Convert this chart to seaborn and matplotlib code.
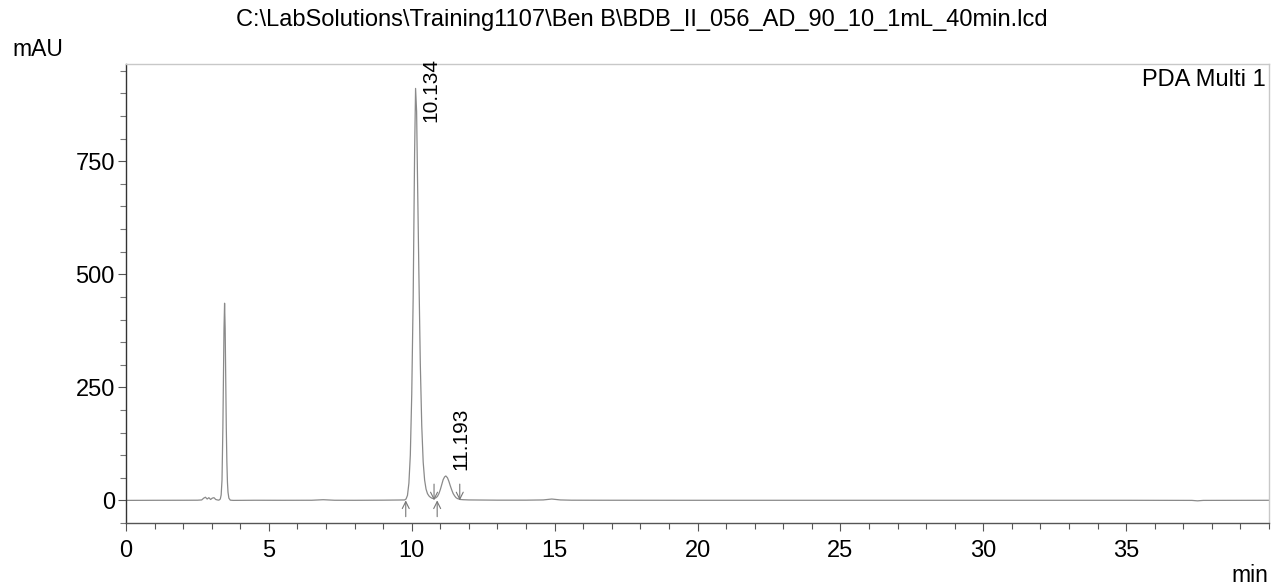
import matplotlib
matplotlib.use("Agg")
import matplotlib.pyplot as plt
import seaborn as sns
import pandas as pd
from matplotlib.ticker import MultipleLocator

# ---- data (time in min, absorbance in mAU) ----
time_min = [0.0, 1.0, 2.0, 2.5, 2.65, 2.72, 2.78, 2.84, 2.90, 2.96, 3.02, 3.08, 3.14,
            3.20, 3.25, 3.30, 3.33, 3.36, 3.39, 3.41, 3.43, 3.45, 3.47, 3.49, 3.51,
            3.53, 3.55, 3.57, 3.60, 3.65, 3.75, 4.5, 5.5, 6.5, 6.9, 7.3, 8.0, 9.0,
            9.5, 9.75, 9.80, 9.85, 9.90, 9.95, 10.00, 10.05, 10.10, 10.134, 10.17,
            10.20, 10.25, 10.30, 10.35, 10.40, 10.45, 10.50, 10.55, 10.60, 10.65,
            10.70, 10.75, 10.80, 10.85, 10.90, 10.95, 11.00, 11.05, 11.10, 11.15,
            11.193, 11.25, 11.30, 11.35, 11.40, 11.45, 11.50, 11.55, 11.60, 11.70,
            11.80, 12.0, 13.0, 14.0, 14.6, 14.9, 15.2, 15.6, 17.0, 20.0, 25.0,
            30.0, 35.0, 37.3, 37.5, 37.7, 40.0]
absorb_mau = [0.0, 0.2, 0.3, 0.4, 1.0, 5.0, 7.0, 3.0, 6.0, 2.0, 5.0, 6.0, 2.0,
              1.0, 0.5, 3.0, 12.0, 45.0, 160.0, 270.0, 380.0, 436.0, 380.0, 270.0,
              160.0, 85.0, 40.0, 18.0, 5.0, 0.5, 0.0, 0.3, 0.2, 0.3, 1.5, 0.3, 0.2,
              0.5, 0.8, 1.0, 3.0, 11.0, 38.0, 100.0, 235.0, 450.0, 770.0, 911.0, 860.0,
              720.0, 500.0, 300.0, 165.0, 85.0, 45.0, 25.0, 15.0, 10.0, 7.0,
              5.0, 4.0, 4.5, 6.0, 9.0, 15.0, 24.0, 35.0, 46.0, 52.0,
              54.0, 50.0, 42.0, 32.0, 23.0, 15.0, 10.0, 6.0, 4.0, 2.0,
              1.5, 1.0, 0.5, 0.5, 1.0, 3.0, 1.0, 0.4, 0.3, 0.2, 0.2,
              0.2, 0.2, 0.0, -1.0, 0.0, 0.2]

peak_rt = [10.134, 11.193]
peak_labels = ["10.134", "11.193"]
label_bottom_mau = [836, 68]
peak_start_min = [9.79, 10.89]
peak_end_min = [10.78, 11.68]

x_ticks = [0, 5, 10, 15, 20, 25, 30, 35]
y_ticks = [0, 250, 500, 750]
title = r"C:\LabSolutions\Training1107\Ben B\BDB_II_056_AD_90_10_1mL_40min.lcd"

# ---- figure ----
sns.set_style("ticks")
plt.rcParams["font.family"] = ["Liberation Sans", "DejaVu Sans"]
plt.rcParams["text.color"] = "black"
plt.rcParams["xtick.labelcolor"] = "black"
plt.rcParams["ytick.labelcolor"] = "black"

fig = plt.figure(figsize=(12.71, 5.86), dpi=100)
ax = fig.add_axes([126 / 1271, 1 - 523 / 586, (1269 - 126) / 1271, (523 - 64) / 586])

df = pd.DataFrame({"time": time_min, "mAU": absorb_mau})
sns.lineplot(data=df, x="time", y="mAU", ax=ax, color="#8a8a8a", linewidth=0.9,
             estimator=None, sort=False)

ax.set_xlim(0, 40)
ax.set_ylim(-50, 965)
ax.set_xlabel("")
ax.set_ylabel("")

ax.xaxis.set_major_locator(MultipleLocator(5))
ax.xaxis.set_minor_locator(MultipleLocator(1))
ax.set_xticks(x_ticks)
ax.set_xticklabels([str(t) for t in x_ticks])
ax.set_yticks(y_ticks)
ax.set_yticklabels([str(t) for t in y_ticks])
ax.yaxis.set_minor_locator(MultipleLocator(50))

ax.tick_params(axis="x", which="major", length=6, width=0.8, color="#555555",
               labelsize=17, pad=6, direction="out", labelcolor="black")
ax.tick_params(axis="x", which="minor", length=4, width=0.8, color="#555555", direction="out")
ax.tick_params(axis="y", which="major", length=6, width=0.8, color="#555555",
               labelsize=17, pad=2, direction="out", labelcolor="black")
ax.tick_params(axis="y", which="minor", length=4, width=0.8, color="#777777", direction="out")

for side in ["top", "right"]:
    ax.spines[side].set_visible(True)
    ax.spines[side].set_color("#c8c8c8")
    ax.spines[side].set_linewidth(1.0)
ax.spines["left"].set_color("#333333")
ax.spines["left"].set_linewidth(1.0)
ax.spines["bottom"].set_color("#555555")
ax.spines["bottom"].set_linewidth(1.0)

# baseline marker arrows
arrow_style = "->,head_length=0.5,head_width=0.25"
for t in peak_start_min:
    ax.annotate("", xy=(t, 0), xytext=(t, -36),
                arrowprops=dict(arrowstyle=arrow_style,
                                color="#777777", lw=0.8, shrinkA=0, shrinkB=0))
for t in peak_end_min:
    ax.annotate("", xy=(t, 0), xytext=(t, 36),
                arrowprops=dict(arrowstyle=arrow_style,
                                color="#777777", lw=0.8, shrinkA=0, shrinkB=0))

# peak labels
for rt, lab, yb in zip(peak_rt, peak_labels, label_bottom_mau):
    ax.text(rt + 0.52, yb, lab, rotation=90, ha="center", va="bottom",
            fontsize=15, color="black", clip_on=False)

ax.text(0.997, 0.99, "PDA Multi 1", transform=ax.transAxes, ha="right", va="top",
        fontsize=17, color="black")

fig.text(642 / 1271, 1 - 20 / 586, title, ha="center", va="center", fontsize=17,
         color="black")
fig.text(12 / 1271, 1 - 50 / 586, "mAU", ha="left", va="center", fontsize=16.5,
         color="black")
fig.text(1268 / 1271, 1 - 576 / 586, "min", ha="right", va="center", fontsize=16.5,
         color="black")

fig.savefig("out.png", dpi=100)
